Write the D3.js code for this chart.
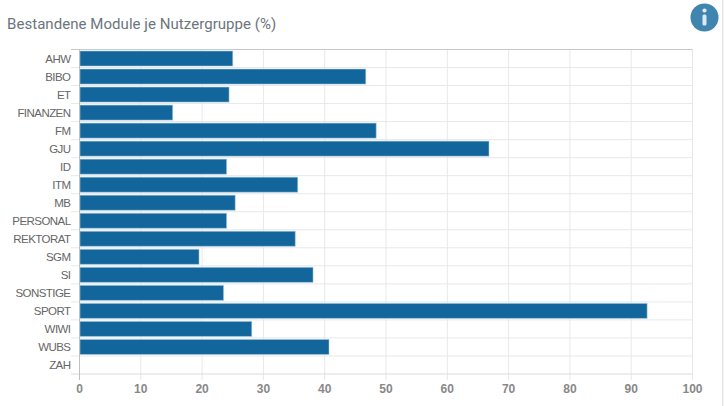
<!DOCTYPE html>
<html><head><meta charset="utf-8">
<script src="https://cdn.jsdelivr.net/npm/d3@7"></script>
<style>html,body{margin:0;padding:0;background:#fff;overflow:hidden}svg{display:block}text{font-family:Roboto,sans-serif}</style>
</head><body><svg id="c" width="725" height="406"></svg>
<script>
const categories = ["AHW","BIBO","ET","FINANZEN","FM","GJU","ID","ITM","MB","PERSONAL","REKTORAT","SGM","SI","SONSTIGE","SPORT","WIWI","WUBS","ZAH"];
const values = [25,46.7,24.4,15.2,48.4,66.8,24,35.6,25.4,24,35.2,19.5,38.1,23.5,92.6,28.1,40.7,0];
const ticks = [0,10,20,30,40,50,60,70,80,90,100];
const svg = d3.select("#c");
const x = d3.scaleLinear().domain([0,100]).range([79.5,692.5]);
const y = d3.scaleBand().domain(categories).range([49.5,374]);
svg.append("rect").attr("x",722).attr("y",0).attr("width",1.5).attr("height",406).attr("fill","#e6e6ee");
svg.append("text").attr("x",7).attr("y",29).attr("font-size",15).attr("letter-spacing",0.05).attr("fill","#6c757d").text("Bestandene Module je Nutzergruppe (%)");
const g = svg.append("g");
g.selectAll(".v").data(ticks).join("line").attr("x1",d=>x(d)).attr("x2",d=>x(d)).attr("y1",49.5).attr("y2",380).attr("stroke","#e8e8e8");
g.selectAll(".h").data(categories.slice(1)).join("line").attr("x1",71).attr("x2",692.5).attr("y1",d=>y(d)).attr("y2",d=>y(d)).attr("stroke","#e8e8e8");
g.append("line").attr("x1",71).attr("x2",692.5).attr("y1",49.5).attr("y2",49.5).attr("stroke","#c8c8c8");
g.append("line").attr("x1",71).attr("x2",692.5).attr("y1",374).attr("y2",374).attr("stroke","#dcdcdc");
g.append("line").attr("x1",79.5).attr("x2",79.5).attr("y1",49.5).attr("y2",380).attr("stroke","#c0c0c0");
g.selectAll(".bar").data(categories).join("rect").attr("x",x(0)+.5)
 .attr("y",d=>y(d)+1.5).attr("width",(d,i)=>Math.max(0,x(values[i])-x(0)-.5)).attr("height",y.bandwidth()-3)
 .attr("fill","#13669b").attr("stroke","#a9cde0").attr("stroke-opacity",.55).attr("stroke-width",1)
 .style("display",(d,i)=>values[i]>0?null:"none");
g.selectAll(".yl").data(categories).join("text").attr("x",70.5).attr("y",d=>y(d)+y.bandwidth()/2+4).attr("text-anchor","end").attr("font-size",11.5).attr("letter-spacing",-0.55).attr("fill","#666").style("font-family","'Liberation Sans',Arial,sans-serif").text(d=>d);
g.selectAll(".xl").data(ticks).join("text").attr("x",d=>x(d)).attr("y",393).attr("text-anchor","middle").attr("font-size",12).attr("font-weight",700).attr("fill","#888").style("font-family","'Liberation Sans',Arial,sans-serif").text(d=>d);
svg.append("circle").attr("cx",704.5).attr("cy",17.5).attr("r",14).attr("fill","#3f85b0");
svg.append("circle").attr("cx",704.5).attr("cy",10.5).attr("r",2.1).attr("fill","#dceaf3");
svg.append("rect").attr("x",702.5).attr("y",14.5).attr("width",4).attr("height",11).attr("rx",1.5).attr("fill","#dceaf3");
</script></body></html>
